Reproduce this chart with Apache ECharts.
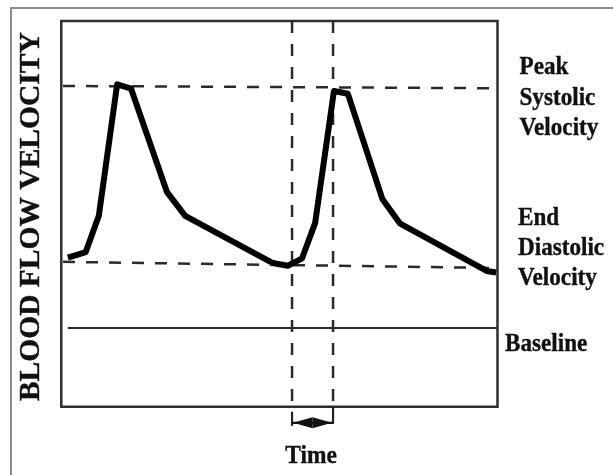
<!DOCTYPE html>
<html>
<head>
<meta charset="utf-8">
<script src="https://cdn.jsdelivr.net/npm/echarts@6/dist/echarts.min.js"></script>
<style>
html,body{margin:0;padding:0;background:#fff;}
#chart{width:613px;height:475px;}
</style>
</head>
<body>
<div id="chart"></div>
<script>
// Blood-flow waveform (time and velocity in arbitrary units, baseline velocity = 0)
const waveTime     = [1.5, 5.6, 8.6, 12.8, 16.0, 24.2, 28.4, 48.5, 51.9, 55.2, 58.2, 62.5, 65.7, 73.6, 77.6, 97.5, 99.7];
const waveVelocity = [17.9, 19.3, 28.5, 61.9, 60.8, 34.6, 28.5, 16.5, 15.8, 17.7, 26.7, 60.2, 59.5, 32.8, 26.6, 14.5, 14.1];

// Reference lines
const peakSystolicTime      = [0.4, 102.2];
const peakSystolicVelocity  = [61.5, 60.9];
const endDiastolicTime      = [0.4, 102.2];
const endDiastolicVelocity  = [16.8, 15.2];
const baselineTime          = [1.5, 100];
const baselineVelocity      = [0, 0];

// Time interval (between end-diastole and peak systole)
const intervalTimes   = [52.9, 62.3];
const intervalArrowAt = -24.1;

// Axis ranges
const timeMin = 0, timeMax = 100;
const velMin = -20, velMax = 78;

const pairs = (xs, ys) => xs.map((x, i) => [x, ys[i]]);

const FONT = '"Liberation Serif", "Times New Roman", serif';
const dashStyle = { color: '#2a2a2a', width: 2.5, type: [12, 11] };

const chart = echarts.init(document.getElementById('chart'), null, { renderer: 'canvas' });

function label(text, x, y, extra) {
  return Object.assign({
    type: 'text', x: x, y: y, scaleX: 0.89, z: 100,
    style: {
      text: text, font: 'bold 26px ' + FONT, fill: '#111',
      stroke: '#111', lineWidth: 0.4,
      align: 'left', verticalAlign: 'middle',
      textAlign: 'left', textVerticalAlign: 'middle'
    }
  }, extra || {});
}

const option = {
  animation: false,
  backgroundColor: '#fff',
  grid: {
    left: 61.3, top: 21, right: 115.5, bottom: 68.3,
    show: true, borderColor: '#2e2e2e', borderWidth: 2.5, backgroundColor: 'transparent'
  },
  xAxis: {
    type: 'value', min: timeMin, max: timeMax,
    axisLine: { show: false }, axisTick: { show: false },
    axisLabel: { show: false }, splitLine: { show: false }
  },
  yAxis: {
    type: 'value', min: velMin, max: velMax,
    axisLine: { show: false }, axisTick: { show: false },
    axisLabel: { show: false }, splitLine: { show: false }
  },
  graphic: [
    { type: 'rect', shape: { x: 11, y: 8, width: 800, height: 700 },
      style: { fill: 'none', stroke: '#8a8a8a', lineWidth: 2 }, z: 100 },
    { type: 'text', x: 31.7, y: 216.7, rotation: Math.PI / 2, z: 100,
      style: { text: 'BLOOD FLOW VELOCITY', font: 'bold 29.5px ' + FONT, fill: '#111',
               stroke: '#111', lineWidth: 0.4,
               align: 'center', verticalAlign: 'middle',
               textAlign: 'center', textVerticalAlign: 'middle' } },
    label('Peak', 519.5, 67.5),
    label('Systolic', 519.5, 98.5),
    label('Velocity', 519.5, 128.5),
    label('End', 518, 218),
    label('Diastolic', 518, 248),
    label('Velocity', 518, 278),
    label('Baseline', 505, 344.5),
    { type: 'text', x: 311, y: 456.5, scaleX: 0.9, z: 100,
      style: { text: 'Time', font: 'bold 26px ' + FONT, fill: '#111',
               stroke: '#111', lineWidth: 0.4,
               align: 'center', verticalAlign: 'middle',
               textAlign: 'center', textVerticalAlign: 'middle' } }
  ],
  series: [
    { name: 'Peak systolic', type: 'line', clip: false, symbol: 'none', silent: true, z: 2,
      data: pairs(peakSystolicTime, peakSystolicVelocity), lineStyle: dashStyle },
    { name: 'End diastolic', type: 'line', clip: false, symbol: 'none', silent: true, z: 2,
      data: pairs(endDiastolicTime, endDiastolicVelocity), lineStyle: dashStyle },
    { name: 'Baseline', type: 'line', clip: false, symbol: 'none', silent: true, z: 2,
      data: pairs(baselineTime, baselineVelocity), lineStyle: { color: '#2a2a2a', width: 2.2 } },
    { name: 'Interval start', type: 'line', clip: false, symbol: 'none', silent: true, z: 2,
      data: [[intervalTimes[0], velMax], [intervalTimes[0], velMin]], lineStyle: dashStyle },
    { name: 'Interval end', type: 'line', clip: false, symbol: 'none', silent: true, z: 2,
      data: [[intervalTimes[1], velMax], [intervalTimes[1], velMin]], lineStyle: dashStyle },
    { name: 'Interval arrow', type: 'custom', clip: false, silent: true, z: 3,
      data: [[intervalTimes[0], intervalTimes[1], intervalArrowAt]],
      encode: { x: [0, 1], y: 2 },
      renderItem: function (params, api) {
        const x0 = api.value(0), x1 = api.value(1), y = api.value(2);
        const a = api.coord([x0, y]), b = api.coord([x1, y]);
        const bl = api.coord([x0, velMin]), br = api.coord([x1, velMin]);
        const mid = (a[0] + b[0]) / 2, h = 5.5;
        return {
          type: 'group',
          children: [
            { type: 'line', shape: { x1: a[0], y1: bl[1] + 5, x2: a[0], y2: a[1] + 3 },
              style: { stroke: '#222', lineWidth: 2.2 } },
            { type: 'line', shape: { x1: b[0], y1: br[1], x2: b[0], y2: b[1] + 1 },
              style: { stroke: '#222', lineWidth: 2.2 } },
            { type: 'line', shape: { x1: a[0], y1: a[1], x2: b[0], y2: b[1] },
              style: { stroke: '#111', lineWidth: 2.2 } },
            { type: 'polygon', shape: { points: [[a[0] + 1, a[1]], [mid, a[1] - h], [mid, a[1] + h]] },
              style: { fill: '#111' } },
            { type: 'polygon', shape: { points: [[b[0] - 1, b[1]], [mid, b[1] - h], [mid, b[1] + h]] },
              style: { fill: '#111' } }
          ]
        };
      }
    },
    { name: 'Velocity', type: 'line', clip: false, symbol: 'none', silent: true, z: 5,
      data: pairs(waveTime, waveVelocity),
      lineStyle: { color: '#000', width: 6, join: 'round', cap: 'butt' } }
  ]
};

chart.setOption(option);
</script>
</body>
</html>
